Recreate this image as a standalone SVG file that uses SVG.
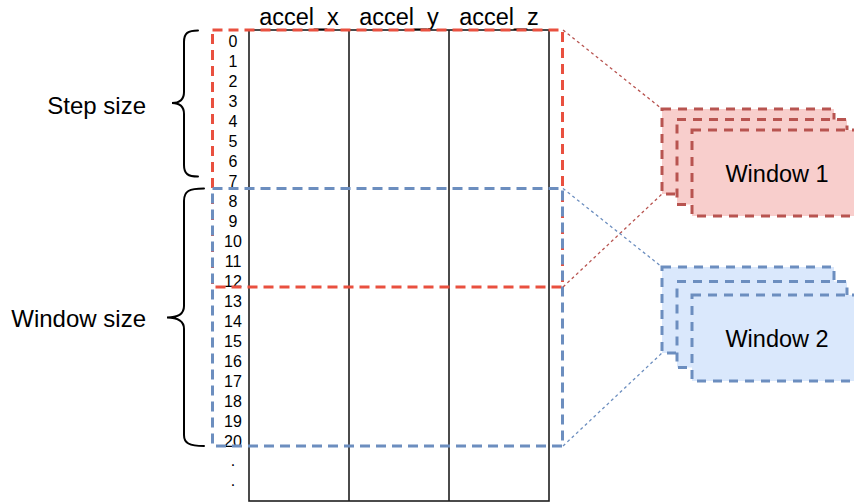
<svg xmlns="http://www.w3.org/2000/svg" width="854" height="504" viewBox="0 0 854 504">
  <style>
    text { font-family: "Liberation Sans", Arial, Helvetica, sans-serif; fill: #000; }
    .hdr { font-size: 23.5px; text-anchor: middle; }
    .row { font-size: 16px; text-anchor: middle; }
    .lbl { font-size: 24px; text-anchor: end; }
    .win { font-size: 23.5px; text-anchor: middle; }
    .grid { fill: none; stroke: #1e1e1e; stroke-width: 1.6; }
    .sel-red { fill: none; stroke: #e9503f; stroke-width: 3; stroke-dasharray: 10 6; }
    .sel-blue { fill: none; stroke: #6c8ebf; stroke-width: 3; stroke-dasharray: 10 6; }
    .brace { fill: none; stroke: #000; stroke-width: 2; stroke-linecap: round; }
    .card-red { fill: #f8cecc; stroke: #b85450; stroke-width: 3; stroke-dasharray: 9 7; }
    .card-blue { fill: #dae8fc; stroke: #6c8ebf; stroke-width: 3; stroke-dasharray: 9 7; }
    .link-red { fill: none; stroke: #b85450; stroke-width: 1.3; stroke-dasharray: 3 3; }
    .link-blue { fill: none; stroke: #6c8ebf; stroke-width: 1.3; stroke-dasharray: 3 3; }
  </style>

  <!-- data table -->
  <g id="table">
    <rect class="grid" x="249" y="30" width="300" height="471"/>
    <line class="grid" x1="349" y1="30" x2="349" y2="501"/>
    <line class="grid" x1="449" y1="30" x2="449" y2="501"/>
    <text class="hdr" x="299" y="25">accel_x</text>
    <text class="hdr" x="399" y="25">accel_y</text>
    <text class="hdr" x="499" y="25">accel_z</text>
  </g>

  <!-- row indices -->
  <g id="rows">
    <text class="row" x="233" y="46.5">0</text>
    <text class="row" x="233" y="66.5">1</text>
    <text class="row" x="233" y="86.5">2</text>
    <text class="row" x="233" y="106.5">3</text>
    <text class="row" x="233" y="126.5">4</text>
    <text class="row" x="233" y="146.5">5</text>
    <text class="row" x="233" y="166.5">6</text>
    <text class="row" x="233" y="186.5">7</text>
    <text class="row" x="233" y="206.5">8</text>
    <text class="row" x="233" y="226.5">9</text>
    <text class="row" x="233" y="246.5">10</text>
    <text class="row" x="233" y="266.5">11</text>
    <text class="row" x="233" y="286.5">12</text>
    <text class="row" x="233" y="306.5">13</text>
    <text class="row" x="233" y="326.5">14</text>
    <text class="row" x="233" y="346.5">15</text>
    <text class="row" x="233" y="366.5">16</text>
    <text class="row" x="233" y="386.5">17</text>
    <text class="row" x="233" y="406.5">18</text>
    <text class="row" x="233" y="426.5">19</text>
    <text class="row" x="233" y="446.5">20</text>
    <text class="row" x="233" y="466">.</text>
    <text class="row" x="233" y="486">.</text>
  </g>

  <!-- window selections over the table -->
  <g id="selection-1">
    <rect class="sel-red" x="212.5" y="30" width="350" height="257"/>
  </g>
  <g id="selection-2">
    <rect class="sel-blue" x="212.5" y="188.5" width="350" height="257.5"/>
  </g>

  <!-- braces and their labels -->
  <g id="step-size">
    <path class="brace" d="M198,30.5 C188,30.5 184,33 184,42 L184,92 C184,99 180,103 172,103 C180,103 184,107 184,114 L184,165 C184,174 188,176.5 198,176.5"/>
    <text class="lbl" x="146" y="114">Step size</text>
  </g>
  <g id="window-size">
    <path class="brace" d="M204,188.5 C189,188.5 184,191 184,201 L184,306 C184,313 180,317.5 167,317.5 C180,317.5 184,322 184,329 L184,435 C184,443 189,446 204,446"/>
    <text class="lbl" x="146" y="326.5">Window size</text>
  </g>

  <!-- connectors from selections to window stacks -->
  <g id="connectors">
    <line class="link-red" x1="563" y1="30" x2="662" y2="109"/>
    <line class="link-red" x1="563" y1="287" x2="662" y2="194"/>
    <line class="link-blue" x1="563" y1="188.5" x2="662" y2="267"/>
    <line class="link-blue" x1="563" y1="446" x2="662" y2="353"/>
  </g>

  <!-- stacked window cards -->
  <g id="window-1">
    <rect class="card-red" x="662" y="109" width="172" height="85"/>
    <rect class="card-red" x="677" y="119.5" width="170" height="85"/>
    <rect class="card-red" x="692" y="130" width="172" height="86"/>
    <text class="win" x="777" y="182">Window 1</text>
  </g>
  <g id="window-2">
    <rect class="card-blue" x="662" y="267" width="172" height="86"/>
    <rect class="card-blue" x="677" y="281.5" width="170" height="86"/>
    <rect class="card-blue" x="692" y="295" width="172" height="86"/>
    <text class="win" x="777" y="347">Window 2</text>
  </g>
</svg>
